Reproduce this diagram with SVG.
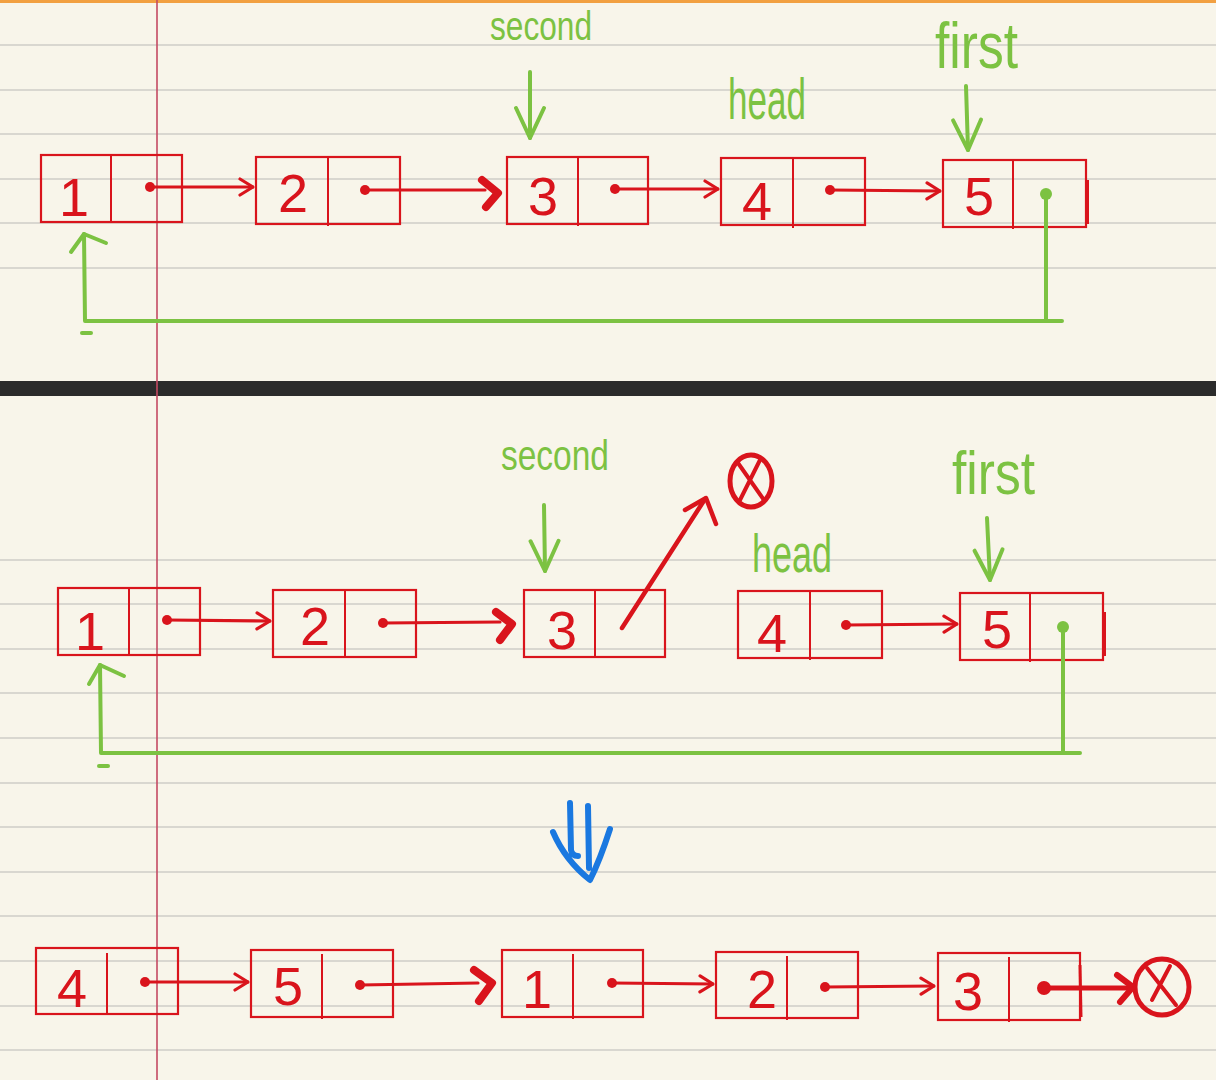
<svg xmlns="http://www.w3.org/2000/svg" width="1216" height="1080" viewBox="0 0 1216 1080">
<defs>
<style>
.rule{stroke:#d9d7d0;stroke-width:2}
.box{fill:none;stroke:#d9141c;stroke-width:2.2}
.div{stroke:#d9141c;stroke-width:2}
.num{font-family:"Liberation Sans",Arial,sans-serif;font-size:54px;fill:#d9141c;text-anchor:middle}
.lbl{font-family:"Liberation Sans Narrow","Liberation Sans",Arial,sans-serif;fill:#7cc242}
.rl{stroke:#d9141c;stroke-width:3.2;fill:none;stroke-linecap:round;stroke-linejoin:round}
.rl.thick{stroke-width:4.5}
.gl{stroke:#7cc242;stroke-width:4;fill:none;stroke-linecap:round;stroke-linejoin:round}
.dot{fill:#d9141c}
.gdot{fill:#7cc242}
.chev{stroke:#d9141c;stroke-width:8;fill:none;stroke-linecap:round;stroke-linejoin:round}
</style>
<marker id="rh" viewBox="0 0 16 20" refX="15" refY="10" markerWidth="16" markerHeight="20" markerUnits="userSpaceOnUse" orient="auto">
<path d="M2,2 L15,10 L2,18" fill="none" stroke="#d9141c" stroke-width="3.2" stroke-linecap="round" stroke-linejoin="round"/>
</marker>
<marker id="gh" viewBox="0 0 36 36" refX="34" refY="18" markerWidth="36" markerHeight="36" markerUnits="userSpaceOnUse" orient="auto">
<path d="M4,4 L34,18 L4,32" fill="none" stroke="#7cc242" stroke-width="4" stroke-linecap="round" stroke-linejoin="round"/>
</marker>
</defs>
<rect width="1216" height="1080" fill="#f8f5ea"/>
<g id="paper">
<rect x="0" y="0" width="1216" height="3" fill="#f2a041"/>
<line class="rule" x1="0" y1="45" x2="1216" y2="45"/>
<line class="rule" x1="0" y1="90" x2="1216" y2="90"/>
<line class="rule" x1="0" y1="134" x2="1216" y2="134"/>
<line class="rule" x1="0" y1="179" x2="1216" y2="179"/>
<line class="rule" x1="0" y1="223" x2="1216" y2="223"/>
<line class="rule" x1="0" y1="268" x2="1216" y2="268"/>
<line class="rule" x1="0" y1="560" x2="1216" y2="560"/>
<line class="rule" x1="0" y1="604" x2="1216" y2="604"/>
<line class="rule" x1="0" y1="649" x2="1216" y2="649"/>
<line class="rule" x1="0" y1="693" x2="1216" y2="693"/>
<line class="rule" x1="0" y1="738" x2="1216" y2="738"/>
<line class="rule" x1="0" y1="783" x2="1216" y2="783"/>
<line class="rule" x1="0" y1="827" x2="1216" y2="827"/>
<line class="rule" x1="0" y1="872" x2="1216" y2="872"/>
<line class="rule" x1="0" y1="916" x2="1216" y2="916"/>
<line class="rule" x1="0" y1="961" x2="1216" y2="961"/>
<line class="rule" x1="0" y1="1006" x2="1216" y2="1006"/>
<line class="rule" x1="0" y1="1050" x2="1216" y2="1050"/>
<rect x="0" y="381" width="1216" height="15" fill="#2b2b2b"/>
<line x1="157" y1="0" x2="157" y2="1080" stroke="#c44a62" stroke-width="1.6"/>
</g>

<!-- Top list -->
<g id="t1"><rect class="box" x="41" y="155" width="141" height="67"/><line class="div" x1="111" y1="155" x2="111" y2="222"/><text class="num" x="74" y="216">1</text></g>
<g id="t2"><rect class="box" x="256" y="157" width="144" height="67"/><line class="div" x1="328" y1="157" x2="328" y2="226"/><text class="num" x="293" y="212">2</text></g>
<g id="t3"><rect class="box" x="507" y="157" width="141" height="67"/><line class="div" x1="578" y1="157" x2="578" y2="226"/><text class="num" x="543" y="215">3</text></g>
<g id="t4"><rect class="box" x="721" y="158" width="144" height="67"/><line class="div" x1="793" y1="158" x2="793" y2="228"/><text class="num" x="757" y="220">4</text></g>
<g id="t5"><rect class="box" x="943" y="160" width="143" height="67"/><line class="div" x1="1013" y1="160" x2="1013" y2="229"/><text class="num" x="979" y="215">5</text><line x1="1087" y1="180" x2="1087" y2="224" stroke="#d9141c" stroke-width="4"/></g>

<g id="labels-top">
<text class="lbl" x="490" y="40" font-size="40" textLength="102" lengthAdjust="spacingAndGlyphs">second</text>
<text class="lbl" x="728" y="119" font-size="58" textLength="78" lengthAdjust="spacingAndGlyphs">head</text>
<text class="lbl" x="935" y="68" font-size="64" textLength="83" lengthAdjust="spacingAndGlyphs">first</text>
</g>

<!-- Middle list -->
<g id="m1"><rect class="box" x="58" y="588" width="142" height="67"/><line class="div" x1="129" y1="588" x2="129" y2="655"/><text class="num" x="90" y="650">1</text></g>
<g id="m2"><rect class="box" x="273" y="590" width="143" height="67"/><line class="div" x1="345" y1="590" x2="345" y2="657"/><text class="num" x="315" y="645">2</text></g>
<g id="m3"><rect class="box" x="524" y="590" width="141" height="67"/><line class="div" x1="595" y1="590" x2="595" y2="657"/><text class="num" x="562" y="649">3</text></g>
<g id="m4"><rect class="box" x="738" y="591" width="144" height="67"/><line class="div" x1="810" y1="591" x2="810" y2="660"/><text class="num" x="772" y="652">4</text></g>
<g id="m5"><rect class="box" x="960" y="593" width="143" height="67"/><line class="div" x1="1030" y1="593" x2="1030" y2="662"/><text class="num" x="997" y="648">5</text><line x1="1104" y1="612" x2="1104" y2="656" stroke="#d9141c" stroke-width="4"/></g>

<g id="labels-mid">
<text class="lbl" x="501" y="470" font-size="42" textLength="108" lengthAdjust="spacingAndGlyphs">second</text>
<text class="lbl" x="752" y="572" font-size="54" textLength="80" lengthAdjust="spacingAndGlyphs">head</text>
<text class="lbl" x="952" y="494" font-size="62" textLength="83" lengthAdjust="spacingAndGlyphs">first</text>
</g>

<g id="null-top">
<ellipse cx="751" cy="481" rx="21" ry="26" fill="none" stroke="#d9141c" stroke-width="5"/>
<path d="M738,463 L764,500 M760,460 L740,500" fill="none" stroke="#d9141c" stroke-width="4" stroke-linecap="round"/>
</g>

<g id="down">
<path d="M570,803 L571,850 Q572,856 578,856 M588,806 L589,868 M553,832 Q565,860 590,880 Q600,860 610,829" fill="none" stroke="#1a78e0" stroke-width="6" stroke-linecap="round" stroke-linejoin="round"/>
</g>

<!-- Bottom list -->
<g id="b4"><rect class="box" x="36" y="948" width="142" height="66"/><line class="div" x1="107" y1="953" x2="107" y2="1014"/><text class="num" x="72" y="1007">4</text></g>
<g id="b5"><rect class="box" x="251" y="950" width="142" height="67"/><line class="div" x1="322" y1="954" x2="322" y2="1019"/><text class="num" x="288" y="1005">5</text></g>
<g id="b1"><rect class="box" x="502" y="950" width="141" height="67"/><line class="div" x1="573" y1="954" x2="573" y2="1019"/><text class="num" x="537" y="1008">1</text></g>
<g id="b2"><rect class="box" x="716" y="952" width="142" height="66"/><line class="div" x1="787" y1="956" x2="787" y2="1020"/><text class="num" x="762" y="1008">2</text></g>
<g id="b3"><rect class="box" x="938" y="953" width="142" height="67"/><line class="div" x1="1009" y1="957" x2="1009" y2="1022"/><text class="num" x="968" y="1010">3</text></g>
<g id="null-bottom">
<ellipse cx="1162" cy="987" rx="27" ry="28" fill="none" stroke="#d9141c" stroke-width="5"/>
<path d="M1147,968 L1176,1005 M1170,966 L1152,1000" fill="none" stroke="#d9141c" stroke-width="4" stroke-linecap="round"/>
</g>

<g id="connectors">
<!-- top -->
<circle class="dot" cx="150" cy="187" r="5"/>
<line class="rl" x1="150" y1="187" x2="253" y2="187" marker-end="url(#rh)"/>
<circle class="dot" cx="365" cy="190" r="5"/>
<line class="rl" x1="365" y1="190" x2="485" y2="190"/>
<path class="chev" d="M482,180 L498,193 L486,207"/>
<circle class="dot" cx="615" cy="189" r="5"/>
<line class="rl" x1="615" y1="189" x2="718" y2="189" marker-end="url(#rh)"/>
<circle class="dot" cx="830" cy="190" r="5"/>
<line class="rl" x1="830" y1="190" x2="940" y2="191" marker-end="url(#rh)"/>
<circle class="gdot" cx="1046" cy="194" r="6"/>
<path class="gl" d="M1046,194 L1046,320 M1062,321 L85,321 L84,234"/>
<path class="gl" d="M71,252 L84,234 L106,243"/>
<line class="gl" x1="82" y1="333" x2="91" y2="333"/>
<line class="gl" x1="530" y1="72" x2="530" y2="138" marker-end="url(#gh)"/>
<line class="gl" x1="966" y1="86" x2="968" y2="150" marker-end="url(#gh)"/>
<!-- middle -->
<circle class="dot" cx="167" cy="620" r="5"/>
<line class="rl" x1="167" y1="620" x2="270" y2="621" marker-end="url(#rh)"/>
<circle class="dot" cx="383" cy="623" r="5"/>
<line class="rl" x1="383" y1="623" x2="500" y2="622"/>
<path class="chev" d="M496,612 L512,624 L500,640"/>
<line class="rl thick" x1="622" y1="628" x2="705" y2="499"/>
<path class="rl thick" d="M685,510 L706,498 L716,524"/>
<circle class="dot" cx="846" cy="625" r="5"/>
<line class="rl" x1="846" y1="625" x2="957" y2="624" marker-end="url(#rh)"/>
<circle class="gdot" cx="1063" cy="627" r="6"/>
<path class="gl" d="M1063,627 L1063,752 M1080,753 L101,753 L100,665"/>
<path class="gl" d="M89,684 L100,665 L124,676"/>
<line class="gl" x1="99" y1="766" x2="108" y2="766"/>
<line class="gl" x1="544" y1="505" x2="545" y2="571" marker-end="url(#gh)"/>
<line class="gl" x1="987" y1="518" x2="990" y2="580" marker-end="url(#gh)"/>
<!-- bottom -->
<circle class="dot" cx="145" cy="982" r="5"/>
<line class="rl" x1="145" y1="982" x2="248" y2="982" marker-end="url(#rh)"/>
<circle class="dot" cx="360" cy="985" r="5"/>
<line class="rl" x1="360" y1="985" x2="478" y2="983"/>
<path class="chev" d="M474,970 L492,983 L479,1001"/>
<circle class="dot" cx="612" cy="983" r="5"/>
<line class="rl" x1="612" y1="983" x2="713" y2="984" marker-end="url(#rh)"/>
<circle class="dot" cx="825" cy="987" r="5"/>
<line class="rl" x1="825" y1="987" x2="934" y2="986" marker-end="url(#rh)"/>
<circle class="dot" cx="1044" cy="988" r="7"/>
<line x1="1044" y1="988" x2="1128" y2="988" stroke="#d9141c" stroke-width="5" stroke-linecap="round"/>
<path d="M1117,975 L1133,987 L1120,1002" fill="none" stroke="#d9141c" stroke-width="6" stroke-linecap="round" stroke-linejoin="round"/>
<line x1="1080" y1="965" x2="1081" y2="1017" stroke="#d9141c" stroke-width="3"/>
</g>
</svg>
